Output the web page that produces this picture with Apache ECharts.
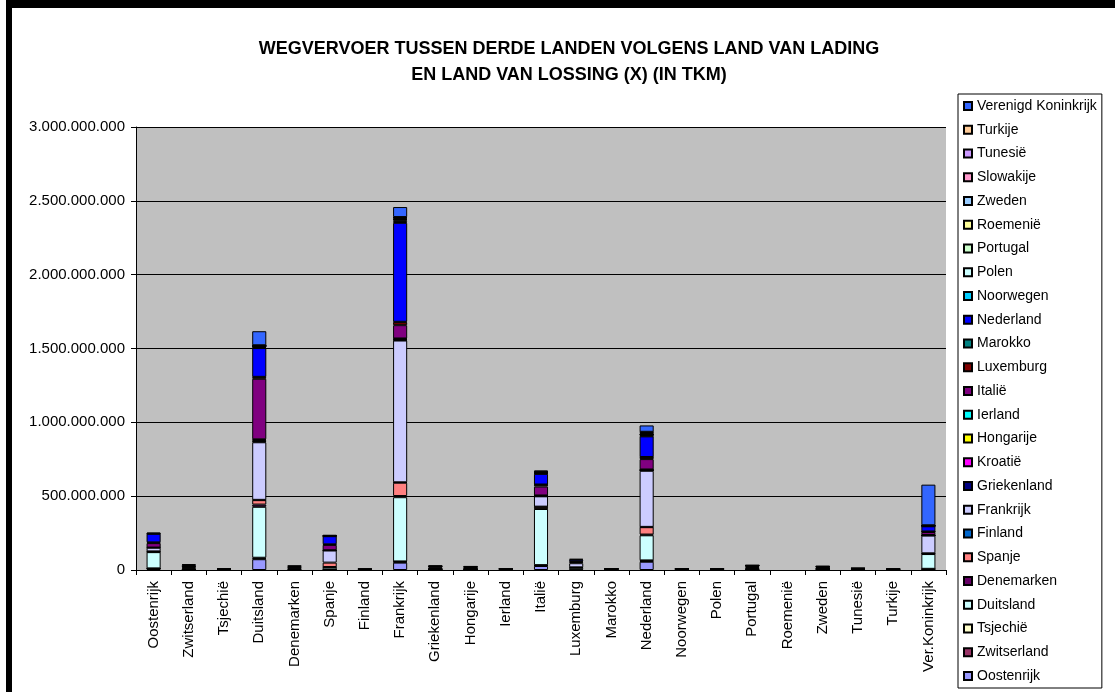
<!DOCTYPE html>
<html>
<head>
<meta charset="utf-8">
<script src="https://cdn.jsdelivr.net/npm/echarts@6/dist/echarts.min.js"></script>
<style>
  html, body { margin: 0; padding: 0; background: #fff; }
  #frame {
    position: absolute; left: 6px; top: 0; width: 1109px; height: 692px;
    border-top: 8px solid #000; border-left: 6px solid #000; box-sizing: border-box;
  }
  #chart { position: absolute; left: 0; top: 0; width: 1115px; height: 692px; }
</style>
</head>
<body>
<div id="frame"></div>
<div id="chart"></div>
<script>
// land van lading (x axis)
const categories = ['Oostenrijk', 'Zwitserland', 'Tsjechië', 'Duitsland', 'Denemarken', 'Spanje',
  'Finland', 'Frankrijk', 'Griekenland', 'Hongarije', 'Ierland', 'Italië', 'Luxemburg', 'Marokko',
  'Nederland', 'Noorwegen', 'Polen', 'Portugal', 'Roemenië', 'Zweden', 'Tunesië', 'Turkije', 'Ver.Koninkrijk']

// land van lossing, values in million tkm, one array per series (stack order, bottom first)
const oostenrijk  = [8, 3, 1, 73, 2, 3, 1, 50, 2, 2, 0, 27, 3, 0, 56, 1, 1, 2, 0, 2, 1, 0, 5]
const zwitserland = [2, 0, 0, 5, 0, 1, 0, 5, 1, 1, 0, 4, 0, 0, 5, 0, 0, 1, 0, 1, 0, 0, 2]
const tsjechie    = [1, 1, 0, 5, 0, 0, 0, 3, 1, 1, 0, 2, 0, 0, 4, 0, 0, 0, 0, 0, 0, 0, 1]
const duitsland   = [110, 6, 5, 345, 5, 15, 3, 435, 5, 4, 3, 380, 12, 3, 170, 3, 3, 6, 0, 5, 3, 2, 100]
const denemarken  = [2, 0, 0, 15, 0, 1, 0, 8, 0, 0, 0, 3, 0, 0, 5, 0, 0, 0, 0, 1, 0, 0, 2]
const spanje      = [3, 0, 0, 30, 0, 30, 0, 90, 1, 1, 0, 12, 3, 2, 50, 0, 0, 3, 0, 1, 1, 1, 3]
const finland     = [0, 0, 0, 2, 0, 0, 0, 3, 0, 0, 0, 1, 0, 0, 2, 0, 0, 0, 0, 0, 0, 0, 0]
const frankrijk   = [25, 5, 2, 390, 10, 82, 2, 960, 5, 4, 3, 70, 28, 2, 380, 2, 2, 8, 0, 4, 4, 2, 120]
const griekenland = [0, 0, 0, 5, 0, 1, 0, 4, 0, 0, 0, 2, 0, 0, 3, 0, 0, 0, 0, 0, 0, 0, 1]
const kroatie     = [0, 0, 0, 3, 0, 0, 0, 2, 0, 0, 0, 1, 0, 0, 1, 0, 0, 0, 0, 0, 0, 0, 0]
const hongarije   = [1, 0, 0, 8, 0, 1, 0, 5, 0, 0, 0, 2, 0, 0, 3, 0, 0, 0, 0, 0, 0, 0, 1]
const ierland     = [0, 0, 0, 4, 0, 0, 0, 3, 0, 0, 0, 1, 0, 0, 2, 0, 0, 0, 0, 0, 0, 0, 2]
const italie      = [30, 7, 0, 410, 3, 36, 1, 90, 8, 5, 1, 60, 8, 1, 70, 1, 1, 5, 0, 4, 2, 1, 20]
const luxemburg   = [5, 2, 0, 10, 0, 4, 0, 20, 0, 0, 0, 12, 4, 0, 12, 0, 0, 0, 0, 0, 0, 0, 3]
const marokko     = [0, 0, 0, 3, 0, 0, 0, 3, 0, 0, 0, 2, 0, 0, 2, 0, 0, 0, 0, 0, 0, 0, 1]
const nederland   = [58, 10, 1, 195, 6, 55, 1, 670, 2, 3, 2, 72, 12, 1, 140, 2, 1, 4, 0, 4, 1, 1, 35]
const noorwegen   = [0, 0, 0, 4, 0, 0, 0, 6, 0, 0, 0, 2, 0, 0, 3, 0, 0, 0, 0, 1, 0, 0, 1]
const polen       = [1, 0, 0, 5, 0, 1, 0, 10, 1, 1, 0, 4, 0, 0, 6, 0, 0, 1, 0, 1, 0, 0, 2]
const portugal    = [0, 0, 0, 2, 0, 1, 0, 5, 0, 0, 0, 2, 0, 0, 3, 0, 0, 0, 0, 0, 0, 0, 1]
const roemenie    = [0, 0, 0, 1, 0, 0, 0, 3, 0, 0, 0, 1, 0, 0, 1, 0, 0, 0, 0, 0, 0, 0, 0]
const zweden      = [0, 0, 0, 3, 0, 1, 0, 6, 0, 0, 0, 2, 0, 0, 6, 0, 0, 1, 0, 0, 0, 0, 2]
const slowakije   = [0, 0, 0, 2, 0, 0, 0, 4, 0, 0, 0, 2, 0, 0, 4, 0, 0, 0, 0, 0, 0, 0, 1]
const tunesie     = [0, 0, 0, 1, 0, 0, 0, 3, 0, 0, 0, 1, 0, 0, 6, 0, 0, 0, 0, 0, 0, 0, 0]
const turkije     = [0, 0, 0, 1, 0, 0, 0, 2, 0, 0, 0, 1, 0, 0, 2, 0, 0, 0, 0, 0, 0, 0, 0]
const verKon      = [8, 5, 0, 95, 4, 5, 0, 68, 4, 4, 2, 8, 5, 1, 43, 1, 1, 2, 0, 3, 1, 1, 275]

const seriesDefs = [
  ['Oostenrijk', oostenrijk, '#9999FF'],
  ['Zwitserland', zwitserland, '#993366'],
  ['Tsjechië', tsjechie, '#FFFFCC'],
  ['Duitsland', duitsland, '#CCFFFF'],
  ['Denemarken', denemarken, '#660066'],
  ['Spanje', spanje, '#FF8080'],
  ['Finland', finland, '#0066CC'],
  ['Frankrijk', frankrijk, '#CCCCFF'],
  ['Griekenland', griekenland, '#000080'],
  ['Kroatië', kroatie, '#FF00FF'],
  ['Hongarije', hongarije, '#FFFF00'],
  ['Ierland', ierland, '#00FFFF'],
  ['Italië', italie, '#800080'],
  ['Luxemburg', luxemburg, '#800000'],
  ['Marokko', marokko, '#008080'],
  ['Nederland', nederland, '#0000FF'],
  ['Noorwegen', noorwegen, '#00CCFF'],
  ['Polen', polen, '#CCFFFF'],
  ['Portugal', portugal, '#CCFFCC'],
  ['Roemenië', roemenie, '#FFFF99'],
  ['Zweden', zweden, '#99CCFF'],
  ['Slowakije', slowakije, '#FF99CC'],
  ['Tunesië', tunesie, '#CC99FF'],
  ['Turkije', turkije, '#FFCC99'],
  ['Verenigd Koninkrijk', verKon, '#3366FF']
]

const font = '"Liberation Sans", Arial, sans-serif'

const formatTkm = (v) => {
  if (v === 0) return '0'
  return String(v * 1000000).replace(/\B(?=(\d{3})+(?!\d))/g, '.')
}

const chart = echarts.init(document.getElementById('chart'))
chart.setOption({
  animation: false,
  backgroundColor: 'transparent',
  title: {
    text: 'WEGVERVOER TUSSEN DERDE LANDEN VOLGENS LAND VAN LADING\nEN LAND VAN LOSSING (X) (IN TKM)',
    left: 564,
    top: 31,
    textAlign: 'center',
    textStyle: {
      fontFamily: font,
      fontSize: 18,
      fontWeight: 'bold',
      color: '#000',
      lineHeight: 26,
      align: 'center'
    }
  },
  legend: {
    orient: 'vertical',
    left: 958,
    top: 94,
    padding: [4, 5, 4, 5],
    itemGap: 7.75,
    itemWidth: 8,
    itemHeight: 8,
    icon: 'rect',
    borderColor: '#000',
    borderWidth: 1,
    backgroundColor: '#fff',
    textStyle: { fontFamily: font, fontSize: 14, color: '#000', lineHeight: 16 },
    data: seriesDefs.map(d => d[0]).reverse()
  },
  grid: {
    left: 136,
    right: 169,
    top: 127,
    bottom: 122,
    show: true,
    backgroundColor: '#C0C0C0',
    borderWidth: 0
  },
  xAxis: {
    type: 'category',
    data: categories,
    axisLine: { lineStyle: { color: '#000', width: 1 } },
    axisTick: { show: true, length: 5, interval: 0, lineStyle: { color: '#000' } },
    axisLabel: {
      interval: 0,
      rotate: 90,
      margin: 11,
      fontFamily: font,
      fontSize: 15,
      color: '#000'
    }
  },
  yAxis: {
    type: 'value',
    min: 0,
    max: 3000,
    interval: 500,
    axisLine: { show: true, lineStyle: { color: '#000', width: 1 } },
    axisTick: { show: true, length: 5, lineStyle: { color: '#000' } },
    splitLine: { lineStyle: { color: '#000', width: 1 } },
    axisLabel: {
      margin: 11,
      fontFamily: font,
      fontSize: 15,
      color: '#000',
      formatter: formatTkm
    }
  },
  series: seriesDefs.map(([name, values, color]) => ({
    name,
    type: 'bar',
    stack: 'total',
    barWidth: '40%',
    data: values.map(v => (v === 0 ? null : v)),
    itemStyle: { color, borderColor: '#000', borderWidth: 1 }
  }))
})
</script>
</body>
</html>
